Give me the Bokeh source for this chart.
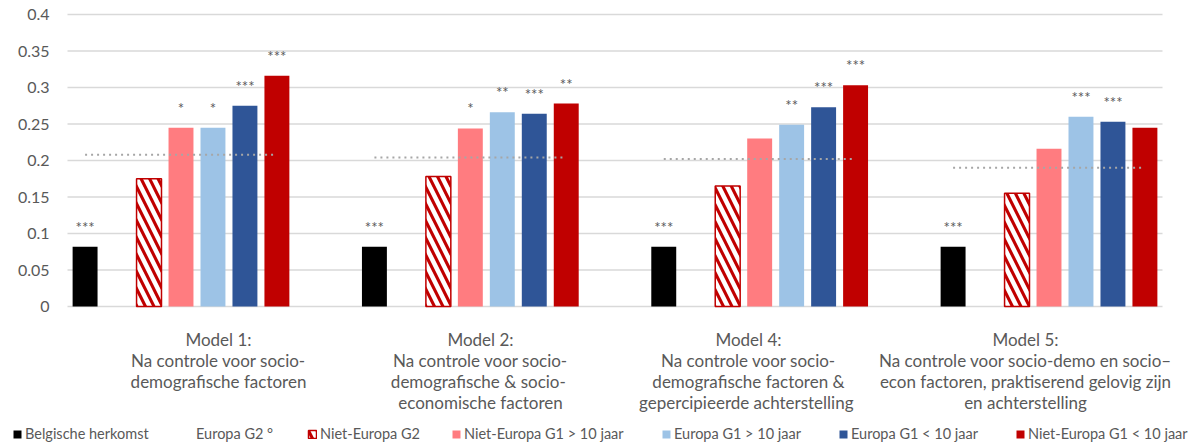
from bokeh.plotting import figure
from bokeh.models import Range1d, Legend, LegendItem, ColumnDataSource
from bokeh.embed import file_html
from bokeh.resources import INLINE

# ---------------- data ----------------
models = [
    "Model 1:\nNa controle voor socio-\ndemografische factoren",
    "Model 2:\nNa controle voor socio-\ndemografische  & socio-\neconomische factoren",
    "Model 4:\nNa controle voor socio-\ndemografische factoren &\ngepercipieerde  achterstelling",
    "Model 5:\nNa controle voor socio-demo en socio\u2013\necon factoren, praktiserend gelovig zijn\nen achterstelling",
]
series = ["Belgische herkomst", "Europa G2 \u00b0", "Niet-Europa G2",
          "Niet-Europa G1 > 10 jaar", "Europa G1 > 10 jaar",
          "Europa G1 < 10 jaar", "Niet-Europa G1 < 10 jaar"]

belgische_herkomst = [0.082, 0.082, 0.082, 0.082]
europa_g2 = [0.208, 0.204, 0.202, 0.190]
niet_europa_g2 = [0.175, 0.178, 0.165, 0.155]
niet_europa_g1_gt10 = [0.245, 0.244, 0.230, 0.216]
europa_g1_gt10 = [0.245, 0.266, 0.249, 0.260]
europa_g1_lt10 = [0.275, 0.264, 0.273, 0.253]
niet_europa_g1_lt10 = [0.316, 0.278, 0.303, 0.245]

sig_belgische_herkomst = ["***", "***", "***", "***"]
sig_europa_g2 = ["", "", "", ""]
sig_niet_europa_g2 = ["", "", "", ""]
sig_niet_europa_g1_gt10 = ["*", "*", "", ""]
sig_europa_g1_gt10 = ["*", "**", "**", "***"]
sig_europa_g1_lt10 = ["***", "***", "***", "***"]
sig_niet_europa_g1_lt10 = ["***", "**", "***", ""]

y_ticks = [0, 0.05, 0.1, 0.15, 0.2, 0.25, 0.3, 0.35, 0.4]
y_tick_labels = ["0", "0.05", "0.1", "0.15", "0.2", "0.25", "0.3", "0.35", "0.4"]

values = [belgische_herkomst, europa_g2, niet_europa_g2, niet_europa_g1_gt10,
          europa_g1_gt10, europa_g1_lt10, niet_europa_g1_lt10]
sigs = [sig_belgische_herkomst, sig_europa_g2, sig_niet_europa_g2,
        sig_niet_europa_g1_gt10, sig_europa_g1_gt10, sig_europa_g1_lt10,
        sig_niet_europa_g1_lt10]

# ---------------- layout / style ----------------
FONT = "Lato"
GREY = "#595959"
colors = ["#000000", "#FFFFFF", "#C00000", "#FF7C80", "#9DC3E6", "#2F5597", "#C00000"]

W, H = 1199, 448
GROUP_STEP = 9.05          # distance between model groups, in bar slots
BAR_W = 0.78
LEFT_M, RIGHT_M = 67, 37   # px left of / right of the plotting area
TOP_M, BOTTOM_M = 14, 142  # px above 0.4 and below 0 (category labels + legend)
Y_MAX = 0.4
LABEL_CENTERS_PX = [218, 480, 748, 1025]               # category label centres
LEGEND_X_PX = [12, 183, 307, 451, 661, 838, 1015]      # legend entry starts

area_x0 = -3.5 - 0.05
area_x1 = 3 * GROUP_STEP + 3.5 + 0.05
px_x = (W - LEFT_M - RIGHT_M) / (area_x1 - area_x0)
px_y = (H - TOP_M - BOTTOM_M) / Y_MAX

p = figure(width=W, height=H, output_backend="svg", toolbar_location=None,
           x_range=Range1d(area_x0 - LEFT_M / px_x, area_x1 + RIGHT_M / px_x),
           y_range=Range1d(-BOTTOM_M / px_y, Y_MAX + TOP_M / px_y),
           x_axis_location=None, y_axis_location=None,
           min_border_left=0, min_border_right=0, min_border_top=0,
           min_border_bottom=0)
p.outline_line_color = None
p.grid.visible = False
p.background_fill_color = "white"
p.border_fill_color = "white"

# gridlines and value labels
n = len(models)
p.segment(x0=[area_x0] * len(y_ticks), x1=[area_x1] * len(y_ticks),
          y0=y_ticks, y1=y_ticks, line_color="#D9D9D9", line_width=1.5)
p.text(x=[area_x0] * len(y_ticks), y=y_ticks, text=y_tick_labels,
       x_offset=-18, text_align="right", text_baseline="middle",
       text_color=GREY, text_font_size="16px", text_font={"value": FONT})

renderers = []
for i, (name, vals, sg) in enumerate(zip(series, values, sigs)):
    xs = [m * GROUP_STEP + (i - 3) for m in range(n)]
    src = ColumnDataSource(dict(x=xs, top=vals, sig=sg))
    if i == 1:
        r = p.vbar(x="x", top="top", width=BAR_W, source=src,
                   fill_alpha=0, line_alpha=0)
    elif i == 2:
        r = p.vbar(x="x", top="top", width=BAR_W, source=src,
                   fill_color=colors[i], line_color=colors[i], line_width=1.5,
                   hatch_pattern="\\", hatch_color="white", hatch_weight=4.5,
                   hatch_scale=17)
    else:
        r = p.vbar(x="x", top="top", width=BAR_W, source=src,
                   fill_color=colors[i], line_color=None)
    renderers.append(r)
    if i != 1:
        p.text(x="x", y="top", text="sig", source=src, text_align="center",
               text_baseline="alphabetic", y_offset=-20, text_color=GREY,
               text_font_size="15px", text_font={"value": FONT})

# Europa G2 reference line (dotted) across each group
seg_src = ColumnDataSource(dict(
    x0=[m * GROUP_STEP - 3 for m in range(n)],
    x1=[m * GROUP_STEP + 3 for m in range(n)],
    y=europa_g2))
p.segment(x0="x0", y0="y", x1="x1", y1="y", source=seg_src,
          line_color="#A6A6A6", line_width=2, line_dash="2 4")

# category labels under each model group
label_x = [area_x0 + (c - LEFT_M) / px_x for c in LABEL_CENTERS_PX]
p.text(x=label_x, y=[0] * n, text=models, y_offset=22,
       text_align="center", text_baseline="top", text_line_height=1.0,
       text_color=GREY, text_font_size="17px", text_font={"value": FONT})

# ---------------- legend (one row at the bottom) ----------------
for name, r, lx in zip(series, renderers, LEGEND_X_PX):
    leg = Legend(items=[LegendItem(label=name, renderers=[r])],
                 location=(lx, 6), orientation="horizontal",
                 padding=0, margin=0, border_line_color=None,
                 background_fill_alpha=0, glyph_width=10, glyph_height=10,
                 label_height=10, label_standoff=3,
                 label_text_font=FONT, label_text_font_size="14.5px",
                 label_text_color=GREY)
    p.add_layout(leg, "center")

open("out.html", "w").write(file_html(p, INLINE))
